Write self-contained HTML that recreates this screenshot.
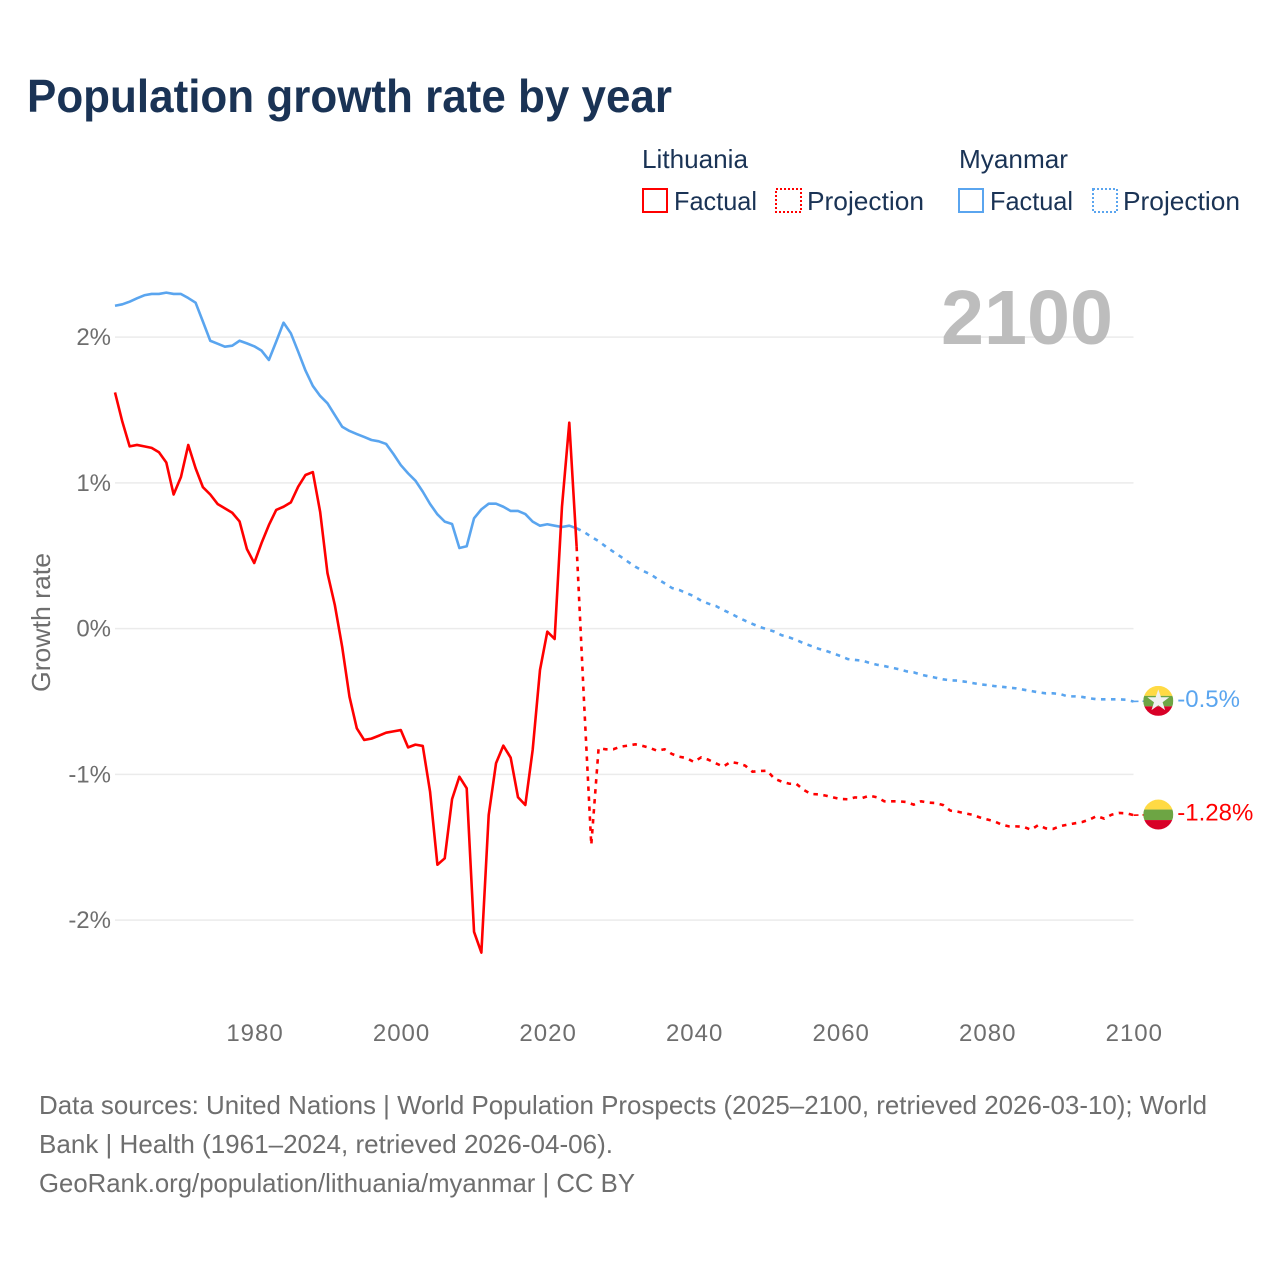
<!DOCTYPE html>
<html lang="en">
<head>
<meta charset="utf-8">
<title>Population growth rate by year</title>
<style>
html,body{margin:0;padding:0;background:#fff;}
svg{display:block;font-family:"Liberation Sans",sans-serif;}
.legend-text{font-size:26px;fill:#1a3355;}
.foot{font-size:26px;fill:#6e6e6e;}
</style>
</head>
<body>
<svg id="chart" xmlns="http://www.w3.org/2000/svg" width="1280" height="1280" viewBox="0 0 1280 1280">
  <rect width="1280" height="1280" fill="#ffffff"/>
  <text x="27" y="112" font-size="46" font-weight="700" fill="#1a3355" textLength="645" lengthAdjust="spacingAndGlyphs">Population growth rate by year</text>

  <g>
    <text class="legend-text" x="642" y="168" textLength="106" lengthAdjust="spacingAndGlyphs">Lithuania</text>
    <text class="legend-text" x="959" y="168" textLength="109" lengthAdjust="spacingAndGlyphs">Myanmar</text>
    <rect x="643" y="189" width="24" height="23" fill="none" stroke="#ff0000" stroke-width="2"/>
    <text class="legend-text" x="674" y="210" textLength="83" lengthAdjust="spacingAndGlyphs">Factual</text>
    <rect x="776" y="189" width="25" height="23" fill="none" stroke="#ff0000" stroke-width="2" stroke-dasharray="2 2"/>
    <text class="legend-text" x="807" y="210" textLength="117" lengthAdjust="spacingAndGlyphs">Projection</text>
    <rect x="959" y="189" width="24" height="23" fill="none" stroke="#5aa5ef" stroke-width="2"/>
    <text class="legend-text" x="990" y="210" textLength="83" lengthAdjust="spacingAndGlyphs">Factual</text>
    <rect x="1093" y="189" width="24" height="23" fill="none" stroke="#5aa5ef" stroke-width="2" stroke-dasharray="2 2"/>
    <text class="legend-text" x="1123" y="210" textLength="117" lengthAdjust="spacingAndGlyphs">Projection</text>
  </g>

  <text transform="translate(50,692) rotate(-90)" font-size="26" fill="#6e6e6e" textLength="139" lengthAdjust="spacingAndGlyphs">Growth rate</text>
  <g id="grid"></g>
  <g id="yticks"></g>
  <g id="xticks"></g>
  <text x="941" y="344" font-size="77" font-weight="700" fill="#bdbdbd" textLength="172" lengthAdjust="spacingAndGlyphs">2100</text>
  <g id="series"></g>
  <g id="ends"></g>

  <g>
    <text class="foot" x="39" y="1114" textLength="1168" lengthAdjust="spacingAndGlyphs">Data sources: United Nations | World Population Prospects (2025–2100, retrieved 2026-03-10); World</text>
    <text class="foot" x="39" y="1153" textLength="574" lengthAdjust="spacingAndGlyphs">Bank | Health (1961–2024, retrieved 2026-04-06).</text>
    <text class="foot" x="39" y="1192" textLength="596" lengthAdjust="spacingAndGlyphs">GeoRank.org/population/lithuania/myanmar | CC BY</text>
  </g>
</svg>
<script>
const factualStartYear = 1961;
const projectionStartYear = 2024;
const yTickValues = [-2, -1, 0, 1, 2];
const yTickLabels = ['-2%', '-1%', '0%', '1%', '2%'];
const xTickValues = [1980, 2000, 2020, 2040, 2060, 2080, 2100];
const lithuaniaEndLabel = '-1.28%';
const myanmarEndLabel = '-0.5%';

const lithuaniaFactual = [
1.62,1.42,1.25,1.26,1.25,1.24,1.21,1.14,0.92,1.04,
1.26,1.10,0.97,0.92,0.855,0.825,0.795,0.735,0.546,0.45,
0.587,0.71,0.814,0.836,0.866,0.974,1.054,1.074,0.80,0.38,
0.162,-0.124,-0.467,-0.684,-0.764,-0.755,-0.735,-0.714,-0.705,-0.696,
-0.815,-0.796,-0.805,-1.12,-1.62,-1.576,-1.17,-1.016,-1.096,-2.08,
-2.223,-1.279,-0.924,-0.803,-0.886,-1.157,-1.21,-0.833,-0.284,-0.021,
-0.071,0.836,1.413,0.562];

const lithuaniaProjection = [
0.562,-0.49,-1.484,-0.821,-0.828,-0.828,-0.81,-0.803,-0.794,-0.805,
-0.819,-0.838,-0.828,-0.86,-0.879,-0.888,-0.915,-0.883,-0.90,-0.924,
-0.947,-0.915,-0.924,-0.94,-0.982,-0.977,-0.975,-1.03,-1.05,-1.064,
-1.066,-1.107,-1.135,-1.137,-1.146,-1.158,-1.169,-1.171,-1.158,-1.162,
-1.146,-1.158,-1.185,-1.185,-1.185,-1.19,-1.208,-1.185,-1.194,-1.197,
-1.21,-1.249,-1.256,-1.267,-1.277,-1.295,-1.309,-1.322,-1.345,-1.357,
-1.357,-1.36,-1.38,-1.348,-1.37,-1.375,-1.355,-1.345,-1.336,-1.327,
-1.31,-1.286,-1.304,-1.277,-1.265,-1.267,-1.28];

const myanmarFactual = [
2.215,2.225,2.243,2.266,2.287,2.296,2.296,2.305,2.296,2.296,
2.268,2.236,2.106,1.975,1.955,1.934,1.941,1.975,1.957,1.937,
1.907,1.843,1.969,2.099,2.026,1.90,1.77,1.665,1.596,1.546,
1.465,1.385,1.356,1.335,1.315,1.294,1.285,1.267,1.198,1.122,
1.065,1.015,0.94,0.855,0.784,0.734,0.718,0.553,0.565,0.757,
0.818,0.857,0.857,0.836,0.807,0.807,0.786,0.734,0.706,0.716,
0.706,0.697,0.706,0.688];

const myanmarProjection = [
0.688,0.663,0.63,0.60,0.562,0.528,0.494,0.459,0.425,0.397,
0.375,0.342,0.311,0.279,0.265,0.244,0.222,0.191,0.171,0.155,
0.128,0.105,0.078,0.054,0.032,0.011,-0.005,-0.021,-0.046,-0.06,
-0.078,-0.101,-0.119,-0.138,-0.152,-0.17,-0.188,-0.209,-0.215,-0.22,
-0.236,-0.248,-0.257,-0.268,-0.279,-0.293,-0.30,-0.316,-0.327,-0.337,
-0.348,-0.355,-0.357,-0.364,-0.373,-0.382,-0.387,-0.394,-0.399,-0.405,
-0.41,-0.419,-0.428,-0.437,-0.444,-0.444,-0.449,-0.465,-0.465,-0.469,
-0.478,-0.485,-0.485,-0.485,-0.485,-0.488,-0.50];

const NS = 'http://www.w3.org/2000/svg';
const plotLeft = 115, plotRight = 1133.5, firstYear = 1961, lastYear = 2100;
function xScale(year) { return plotLeft + (year - firstYear) * (plotRight - plotLeft) / (lastYear - firstYear); }
function yScale(v) { return 628.6 - 145.75 * v; }
function make(tag, attrs, parent) {
  const el = document.createElementNS(NS, tag);
  for (const k in attrs) el.setAttribute(k, attrs[k]);
  parent.appendChild(el);
  return el;
}
function linePath(values, startYear) {
  return values.map((v, i) => (i ? 'L' : 'M') + xScale(startYear + i).toFixed(2) + ' ' + yScale(v).toFixed(2)).join(' ');
}

const grid = document.getElementById('grid');
const yticks = document.getElementById('yticks');
const xticks = document.getElementById('xticks');
const series = document.getElementById('series');
const ends = document.getElementById('ends');

yTickValues.forEach((v, i) => {
  const g = make('line', {x1: plotLeft, x2: plotRight, y1: yScale(v), y2: yScale(v), stroke: '#ebebeb', 'stroke-width': 1.5}, grid);
  
  
  const t = make('text', {x: 111, y: yScale(v) + 8, 'text-anchor': 'end', 'font-size': 24, fill: '#6e6e6e'}, yticks);
  
  
  t.textContent = yTickLabels[i];
});

xTickValues.forEach((year) => {
  const t = make('text', {x: xScale(year) + 0.8, y: 1041, 'text-anchor': 'middle', 'font-size': 24, 'letter-spacing': 1, fill: '#6e6e6e'}, xticks);
  
  
  t.textContent = year;
});

function drawSeries(values, startYear, color, dashed, name) {
  const attrs = {d: linePath(values, startYear), fill: 'none', stroke: color, 'stroke-width': 2.6, 'stroke-linejoin': 'round'};
  if (dashed) attrs['stroke-dasharray'] = '4.5 5.5';
  const p = make('path', attrs, series);
  
  
}
drawSeries(myanmarFactual, factualStartYear, '#5aa5ef', false, 'myanmar-factual-line');
drawSeries(myanmarProjection, projectionStartYear, '#5aa5ef', true, 'myanmar-projection-line');
drawSeries(lithuaniaFactual, factualStartYear, '#ff0000', false, 'lithuania-factual-line');
drawSeries(lithuaniaProjection, projectionStartYear, '#ff0000', true, 'lithuania-projection-line');

function drawEnd(lastValue, color, label, key, withStar) {
  const cy = yScale(lastValue) - 0.6;
  const cx = plotRight + 24.8;
  const conn = make('line', {x1: plotRight, x2: cx, y1: yScale(lastValue), y2: cy, stroke: color, 'stroke-width': 1.6, 'stroke-dasharray': '5 4'}, ends);
  
  
  const g = make('g', {transform: 'translate(' + cx + ',' + cy + ')'}, ends);
  
  
  const clipId = 'clip-' + key;
  const clip = make('clipPath', {id: clipId}, g);
  make('circle', {r: 15}, clip);
  const bands = make('g', {'clip-path': 'url(#' + clipId + ')'}, g);
  make('rect', {x: -15, y: -15, width: 30, height: 10, fill: '#ffda44'}, bands);
  make('rect', {x: -15, y: -5, width: 30, height: 10.5, fill: '#6da544'}, bands);
  make('rect', {x: -15, y: 5.5, width: 30, height: 9.5, fill: '#d80027'}, bands);
  if (withStar) {
    const star = make('polygon', {points: '0,-11.5 2.7,-3.6 11,-3.6 4.3,1.4 6.8,9.3 0,4.4 -6.8,9.3 -4.3,1.4 -11,-3.6 -2.7,-3.6', fill: '#f0f0f0'}, g);
    
    
  }
  const t = make('text', {x: cx + 19, y: cy + 6, 'font-size': 24, fill: color}, ends);
  
  
  t.textContent = label;
}
drawEnd(myanmarProjection[myanmarProjection.length - 1], '#5aa5ef', myanmarEndLabel, 'myanmar', true);
drawEnd(lithuaniaProjection[lithuaniaProjection.length - 1], '#ff0000', lithuaniaEndLabel, 'lithuania', false);
</script>
</body>
</html>
